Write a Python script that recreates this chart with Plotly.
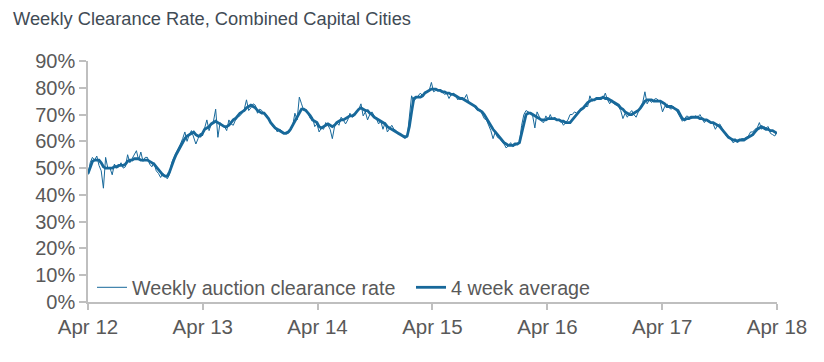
import pandas as pd
import plotly.graph_objects as go

# Weekly auction clearance rate (%), combined capital cities, weekly from Apr 2012
weekly = [
    47.5, 52, 54, 53, 54.5, 51, 49, 42.5, 54, 50,
    50, 47.5, 51.5, 50, 50.5, 52, 50, 50.5, 55, 52,
    53.5, 55, 56.5, 53, 56, 52.5, 54, 54, 51.5, 50.5,
    52, 49, 48, 46.5, 48, 47, 46, 47.5, 52, 54,
    55.5, 57, 59, 61, 63.5, 60, 62.5, 64, 61.5, 59,
    61, 63, 62, 65.5, 68, 64, 66.5, 67.5, 72, 61.5,
    67, 66, 65.5, 64, 68, 66.5, 66, 68, 69, 69.5,
    70.5, 72, 75.5, 71.5, 72.5, 74, 73.5, 70.5, 72, 71.5,
    70.5, 70, 68.5, 67, 65.5, 65, 63.5, 64.5, 64, 63,
    63.5, 63, 64, 66, 70.5, 68, 76.5, 74, 71.5, 72,
    70, 68.5, 69, 65.5, 66.5, 63.5, 65, 64.5, 67, 66,
    64.5, 61, 65.5, 67, 66, 69, 68, 66.5, 68, 70.5,
    69, 69.5, 71, 72, 74, 69.5, 71, 68, 70, 71,
    69.5, 68.5, 66.5, 67.5, 64.5, 67, 63.5, 65, 66, 64.5,
    64, 62.5, 63, 62, 62, 61.5, 70, 77, 75, 76,
    77, 78, 77, 78.5, 78.5, 79, 82, 78.5, 79, 79,
    79, 78.5, 77.5, 78, 76, 77.5, 78, 77, 75.5, 76.5,
    76, 76, 77.5, 74.5, 74, 73.5, 72.5, 71.5, 72, 70,
    68.5, 68, 66, 64, 61, 63.5, 61.5, 61, 60, 59,
    57.5, 58.5, 59.5, 58, 58.5, 59, 59.5, 66, 70, 71.5,
    71, 70.5, 69.5, 65, 71, 69, 67.5, 67, 69.5, 68,
    70, 68, 69, 68, 68, 67.5, 66, 67, 68, 70,
    70, 71, 70.5, 71.5, 71.5, 72, 73, 73, 77, 75,
    75.5, 76, 76, 76.5, 76, 78, 75.5, 74, 75.5, 74,
    73.5, 73, 71.5, 68.5, 70.5, 69, 70.5, 71.5, 70, 69,
    71, 72.5, 74.5, 78.5, 74, 75.5, 74.5, 75.5, 76, 75.5,
    74.5, 71, 73, 74, 72.5, 72, 73, 72, 70.5, 69.5,
    67.5, 68.5, 69.5, 69, 68.5, 69, 69.5, 69, 70, 68.5,
    67, 68, 67.5, 67, 66.5, 64.5, 66, 66.5, 65, 63.5,
    62, 61.5, 61, 59.5, 60, 60.5, 60.5, 61, 61, 61.5,
    62, 63.5, 63.5, 64.5, 65, 67, 64.5, 65.5, 65, 65.5,
    63, 62.5, 62, 63.5,
]

# 4 week average (%)
avg4 = [
    48, 50, 52.5, 53, 53, 53, 52, 50.5, 50, 50,
    50, 50, 50.5, 50.5, 51, 51, 51, 51.5, 52.5, 53,
    53, 53.5, 53.5, 53.5, 53, 53, 53, 53, 52.5, 52,
    51.5, 50.5, 49.5, 48.5, 47.5, 47, 47, 48.5, 51, 53,
    55, 56.5, 58, 60, 61, 62, 62.5, 63, 63.5, 62.5,
    62, 62, 63, 64.5, 65, 65.5, 66.5, 67, 67.5, 67,
    66.5, 66, 65.5, 65.5, 66, 67, 68, 68.5, 69.5, 70.5,
    71, 71.5, 72.5, 73, 73.5, 73, 72.5, 71.5, 71, 70.5,
    70.5, 69.5, 68.5, 67, 66, 65, 64.5, 64, 63.5, 63,
    63, 63.5, 64.5, 66, 67.5, 69, 70.5, 72, 72, 71.5,
    70.5, 69.5, 68, 67.5, 67, 65.5, 65, 65.5, 66, 66.5,
    66, 65.5, 66, 67, 67.5, 68, 68, 68.5, 69, 69.5,
    69.5, 70, 71, 72, 72.5, 72, 71.5, 71.5, 70.5, 70,
    69, 68.5, 68, 67.5, 67, 66.5, 65.5, 65, 64.5, 64,
    63.5, 63, 62.5, 62, 61.5, 62, 65.5, 71, 76, 76.5,
    76.5, 76.5, 77, 78, 78.5, 79, 79.5, 79.5, 79.5, 79,
    79, 78.5, 78.5, 78, 78, 77.5, 77.5, 77, 76.5, 76,
    76, 75.5, 75, 74.5, 74, 73.5, 73, 72, 71.5, 71,
    70, 68.5, 67, 66, 64.5, 63.5, 62.5, 61.5, 60.5, 59.5,
    59, 58.5, 58.5, 58.5, 59, 59, 59.5, 63, 67.5, 70,
    70.5, 70.5, 70, 69.5, 69, 68.5, 68, 68, 68, 68.5,
    68.5, 68.5, 68.5, 68, 68, 67.5, 67.5, 67, 67, 67,
    68, 69, 70, 71, 72, 72.5, 73.5, 74.5, 75, 75.5,
    75.5, 76, 76, 76, 76.5, 76, 76, 75.5, 75, 74.5,
    74, 73.5, 72.5, 72, 71, 70.5, 70, 70, 70.5, 71,
    71.5, 72.5, 74, 75, 75.5, 75.5, 75.5, 75, 75, 75,
    75, 74.5, 74, 73, 73, 73, 72.5, 72, 71.5, 70,
    68.5, 68, 68.5, 68.5, 69, 69, 69, 69, 68.5, 68.5,
    68, 68, 67.5, 67, 67, 66.5, 66, 65.5, 64.5, 63.5,
    62.5, 61.5, 61, 60.5, 60.5, 60, 60.5, 60.5, 60.5, 61,
    61.5, 62, 62.5, 63.5, 64.5, 65, 65.5, 65, 64.5, 64.5,
    64, 64, 63.5, 63,
]

weeks = pd.date_range("2012-04-01", periods=len(weekly), freq="7D")

tick_dates = ["2012-04-01", "2013-04-01", "2014-04-01", "2015-04-01",
              "2016-04-01", "2017-04-01", "2018-04-01"]
tick_labels = ["Apr 12", "Apr 13", "Apr 14", "Apr 15", "Apr 16", "Apr 17", "Apr 18"]
y_ticks = [0, 10, 20, 30, 40, 50, 60, 70, 80, 90]
y_labels = [f"{v}%" for v in y_ticks]

LINE = "#17689A"
FONT = "Liberation Sans, Arial, sans-serif"
AXIS = "#BFBFBF"

fig = go.Figure()
fig.add_trace(go.Scatter(x=weeks, y=weekly, mode="lines",
                         name="Weekly auction clearance rate",
                         line=dict(color=LINE, width=1)))
fig.add_trace(go.Scatter(x=weeks, y=avg4, mode="lines",
                         name="4 week average",
                         line=dict(color=LINE, width=2.8)))

fig.update_layout(
    width=824, height=362,
    margin=dict(l=80, r=55, t=53, b=68),
    paper_bgcolor="white", plot_bgcolor="white",
    font=dict(family=FONT, color="#595959", size=20),
    title=dict(text="Weekly Clearance Rate, Combined Capital Cities",
               x=5 / 824, xref="container", xanchor="left",
               y=1 - 11 / 362, yref="container", yanchor="middle",
               font=dict(size=18.3, color="#414B55", family=FONT)),
    showlegend=True,
    legend=dict(orientation="h", x=4 / 689, xanchor="left", y=-5 / 241, yanchor="bottom",
                font=dict(size=19.7, color="#595959"), bgcolor="rgba(0,0,0,0)",
                entrywidth=274, entrywidthmode="pixels", itemwidth=30),
    xaxis=dict(range=["2012-04-01", "2018-04-01"], tickvals=tick_dates, ticktext=tick_labels,
               showgrid=False, zeroline=False, showline=True, linecolor=AXIS, linewidth=1.5,
               ticks="outside", ticklen=6, tickcolor=AXIS, tickwidth=1.5,
               tickfont=dict(size=20.5, color="#595959")),
    yaxis=dict(range=[0, 90], tickvals=y_ticks, ticktext=y_labels,
               showgrid=False, zeroline=False, showline=True, linecolor=AXIS, linewidth=1.5,
               ticks="outside", ticklen=7, tickcolor=AXIS, tickwidth=1.5,
               tickfont=dict(size=20, color="#595959")),
)
fig.write_html("out.html")
